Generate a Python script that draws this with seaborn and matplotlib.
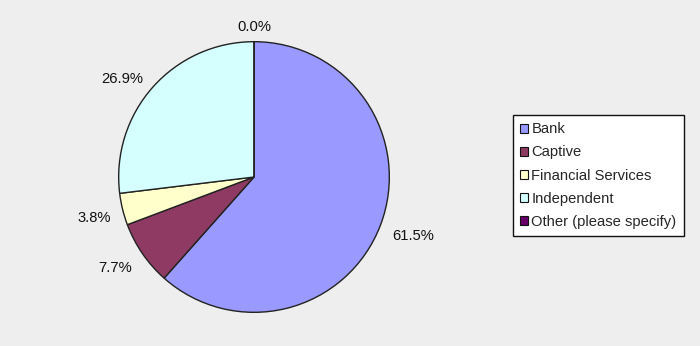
import numpy as np
import matplotlib
matplotlib.use("Agg")
import matplotlib.pyplot as plt
import seaborn as sns

categories = ["Bank", "Captive", "Financial Services", "Independent", "Other (please specify)"]
values = [61.5, 7.7, 3.8, 26.9, 0.0]
colors = ["#9999FF", "#8E3A62", "#FFFFCC", "#D5FFFF", "#660066"]

sns.set_style("white")
plt.rcParams["font.family"] = ["Liberation Sans", "DejaVu Sans"]

bg = "#EEEEEE"
fig = plt.figure(figsize=(7.0, 3.46), dpi=100, facecolor=bg)
W, H = 700, 346
cx, cy, R = 254, 177, 136
ax = fig.add_axes([(cx - R) / W, (H - cy - R) / H, 2 * R / W, 2 * R / H])
ax.set_facecolor(bg)

wedges, _ = ax.pie(values, colors=colors, startangle=90, counterclock=False,
                   radius=1.0, wedgeprops=dict(edgecolor="#222222", linewidth=1.0))
ax.set_xlim(-1.005, 1.005)
ax.set_ylim(-1.005, 1.005)
ax.axis("off")

for w, v in zip(wedges, values):
    ang = np.deg2rad((w.theta1 + w.theta2) / 2)
    c, s = np.cos(ang), np.sin(ang)
    ha = "left" if c > 0.1 else ("right" if c < -0.1 else "center")
    va = "bottom" if s > 0.7 else ("top" if s < -0.7 else "center")
    r = 1.06 if va != "center" else 1.09
    yoff = (0.05 * s - 0.03) if va == "center" else 0.0
    ax.text(r * c, r * s + yoff, f"{v:.1f}%", ha=ha, va=va, fontsize=10.6, color="#111111")

leg = fig.legend(wedges, categories, loc="upper left",
                 bbox_to_anchor=(513 / W, 1 - 115 / H), borderaxespad=0,
                 fontsize=10.6, frameon=True, fancybox=False,
                 handlelength=0.55, handleheight=0.55, handletextpad=0.2,
                 labelspacing=0.62, borderpad=0.5)
fr = leg.get_frame()
fr.set_edgecolor("#111111")
fr.set_linewidth(1.0)
fr.set_facecolor("white")
fr.set_alpha(1)
for p in leg.get_patches():
    p.set_edgecolor("#111111")
    p.set_linewidth(0.8)

fig.savefig("out.png", dpi=100, facecolor=bg)
